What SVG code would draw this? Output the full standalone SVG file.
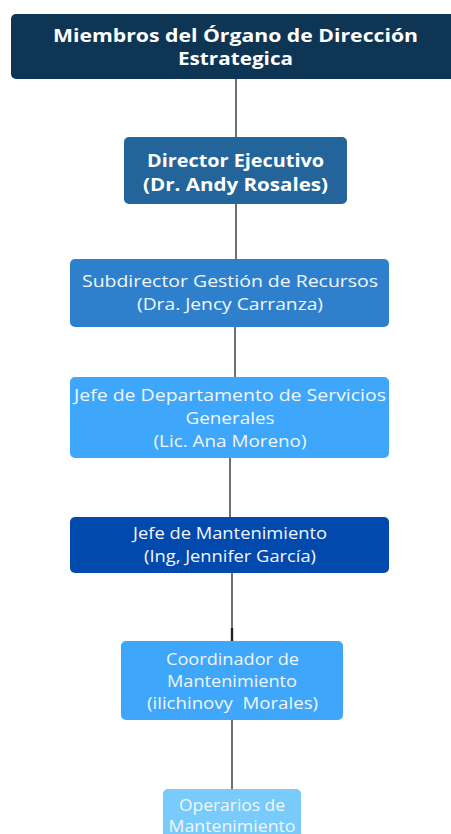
<svg xmlns="http://www.w3.org/2000/svg" width="451" height="834" viewBox="0 0 451 834">
<style>
.b{font-family:"Open Sans","Liberation Sans",sans-serif;font-weight:bold;fill:#fff;text-anchor:middle}
.r{font-family:"Open Sans","Liberation Sans",sans-serif;fill:#f2f7ff;text-anchor:middle;font-size:17px}
.c{stroke:#333;stroke-width:1.4;fill:none}
</style>
<rect width="451" height="834" fill="#fff"/>
<g id="connectors">
<line class="c" x1="236" y1="79" x2="236" y2="137"/>
<line class="c" x1="236" y1="204" x2="236" y2="259"/>
<line class="c" x1="235" y1="327" x2="235" y2="377"/>
<line class="c" x1="230" y1="458" x2="230" y2="517"/>
<line class="c" x1="232" y1="573" x2="232" y2="641"/>
<line stroke="#222" stroke-width="2.4" x1="232" y1="628" x2="232" y2="641"/>
<line class="c" x1="232" y1="720" x2="232" y2="789"/>
</g>
<g id="n1">
<rect x="11" y="14" width="450" height="65" rx="5" fill="#0f3555"/>
<text class="b" font-size="18" x="235.5" y="42" textLength="365" lengthAdjust="spacingAndGlyphs">Miembros del Órgano de Dirección</text>
<text class="b" font-size="18" x="235.5" y="65" textLength="115" lengthAdjust="spacingAndGlyphs">Estrategica</text>
</g>
<g id="n2">
<rect x="124" y="137" width="223" height="67" rx="5" fill="#23659a"/>
<text class="b" font-size="18" x="235.5" y="167" textLength="177" lengthAdjust="spacingAndGlyphs">Director Ejecutivo</text>
<text class="b" font-size="18" x="235.5" y="191" textLength="185" lengthAdjust="spacingAndGlyphs">(Dr. Andy Rosales)</text>
</g>
<g id="n3">
<rect x="70" y="259" width="319" height="68" rx="5" fill="#2f80cc"/>
<text class="r" x="230" y="287" textLength="296" lengthAdjust="spacingAndGlyphs">Subdirector Gestión de Recursos</text>
<text class="r" x="230" y="310" textLength="186" lengthAdjust="spacingAndGlyphs">(Dra. Jency Carranza)</text>
</g>
<g id="n4">
<rect x="70" y="377" width="319" height="81" rx="5" fill="#3ea6fb"/>
<text class="r" x="230" y="401" textLength="312" lengthAdjust="spacingAndGlyphs">Jefe de Departamento de Servicios</text>
<text class="r" x="230" y="424" textLength="89" lengthAdjust="spacingAndGlyphs">Generales</text>
<text class="r" x="230" y="447" textLength="153" lengthAdjust="spacingAndGlyphs">(Lic. Ana Moreno)</text>
</g>
<g id="n5">
<rect x="70" y="517" width="319" height="56" rx="5" fill="#0249ad"/>
<text class="r" x="230" y="539" textLength="194" lengthAdjust="spacingAndGlyphs">Jefe de Mantenimiento</text>
<text class="r" x="230" y="562" textLength="172" lengthAdjust="spacingAndGlyphs">(Ing, Jennifer García)</text>
</g>
<g id="n6">
<rect x="121" y="641" width="222" height="79" rx="5" fill="#3ea6fb"/>
<text class="r" x="232.5" y="665" textLength="133" lengthAdjust="spacingAndGlyphs">Coordinador de</text>
<text class="r" x="232" y="687" textLength="130" lengthAdjust="spacingAndGlyphs">Mantenimiento</text>
<text class="r" x="232.5" y="709" textLength="171" lengthAdjust="spacingAndGlyphs" xml:space="preserve">(ilichinovy  Morales)</text>
</g>
<g id="n7">
<rect x="163" y="789" width="138" height="60" rx="5" fill="#78cbfa"/>
<text class="r" x="232" y="811" textLength="106" lengthAdjust="spacingAndGlyphs">Operarios de</text>
<text class="r" x="232" y="832" textLength="127" lengthAdjust="spacingAndGlyphs">Mantenimiento</text>
</g>
</svg>
